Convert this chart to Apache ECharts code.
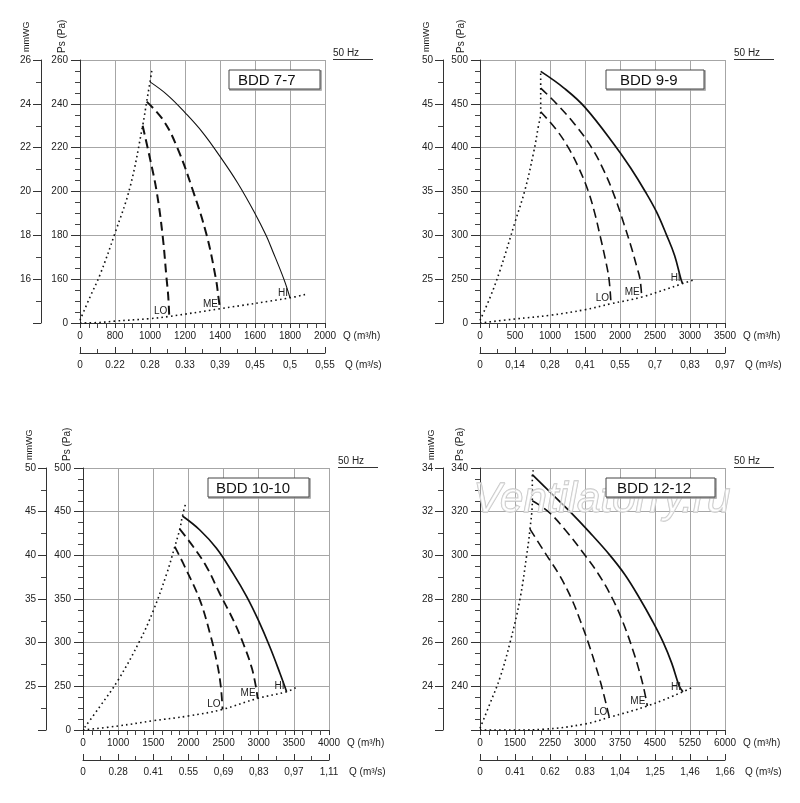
<!DOCTYPE html>
<html lang="ru">
<head>
<meta charset="UTF-8">
<title>BDD 50 Hz</title>
<script src="https://cdn.jsdelivr.net/npm/echarts@6.0.0/dist/echarts.min.js"></script>
<style>
  html, body { margin: 0; padding: 0; background: #fff; }
  #chart { width: 800px; height: 803px; }
</style>
</head>
<body>
<div id="chart"></div>
<script>
// ---- BDD 7-7 ----  (Q in m3/h, Ps in Pa)
const bdd77Q = [0, 800, 1000, 1200, 1400, 1600, 1800, 2000];
const bdd77Qs = ['0', '0.22', '0.28', '0.33', '0,39', '0,45', '0,5', '0,55'];
const bdd77Ps = [0, 160, 180, 200, 220, 240, 260];
const bdd77PsLabels = ['0', '160', '180', '200', '220', '240', '260'];
const bdd77Mm = ['', '16', '18', '20', '22', '24', '26'];
const bdd77Hi = [[1000, 250], [1100, 244], [1200, 236], [1300, 227], [1400, 216], [1500, 204], [1600, 190], [1663, 180], [1700, 173], [1765, 160], [1800, 92]];
const bdd77Me = [[981, 241], [1076, 232.5], [1156, 220], [1247, 200], [1324, 180], [1377, 160], [1390, 100], [1400, 52]];
const bdd77Lo = [[958, 230], [1000, 215], [1038, 200], [1072, 180], [1095, 160], [1104, 100], [1110, 24]];
const bdd77Sys = [[0, 10], [229, 95], [457, 162], [800, 181], [886, 202], [958, 230], [981, 241], [1000, 250], [1010, 255]];
const bdd77Low = [[0, 0], [457, 2], [800, 7], [1000, 16], [1110, 24], [1400, 52], [1800, 92], [1886, 104]];

// ---- BDD 9-9 ----
const bdd99Q = [0, 500, 1000, 1500, 2000, 2500, 3000, 3500];
const bdd99Qs = ['0', '0,14', '0,28', '0,41', '0,55', '0,7', '0,83', '0,97'];
const bdd99Ps = [0, 250, 300, 350, 400, 450, 500];
const bdd99PsLabels = ['0', '250', '300', '350', '400', '450', '500'];
const bdd99Mm = ['', '25', '30', '35', '40', '45', '50'];
const bdd99Hi = [[867, 487], [1200, 468], [1500, 446], [1950, 400], [2150, 377], [2360, 350], [2520, 327], [2667, 300], [2780, 277], [2871, 250], [2895, 225]];
const bdd99Me = [[867, 468], [1095, 450], [1350, 427], [1595, 400], [1780, 372], [1929, 343], [2060, 312], [2167, 285], [2240, 264], [2286, 250], [2310, 148]];
const bdd99Lo = [[867, 441], [1095, 420], [1262, 400], [1410, 377], [1548, 350], [1640, 325], [1714, 300], [1790, 273], [1843, 250], [1871, 110]];
const bdd99Sys = [[0, 15], [143, 145], [286, 260], [500, 315], [643, 352], [762, 393], [833, 424], [867, 441], [867, 468], [867, 487]];
const bdd99Low = [[0, 0], [500, 23], [1000, 44], [1500, 76], [1871, 110], [2310, 148], [2895, 225], [3038, 244]];

// ---- BDD 10-10 ----
const bdd1010Q = [0, 1000, 1500, 2000, 2500, 3000, 3500, 4000];
const bdd1010Qs = ['0', '0.28', '0.41', '0.55', '0,69', '0,83', '0,97', '1,11'];
const bdd1010Ps = [0, 250, 300, 350, 400, 450, 500];
const bdd1010PsLabels = ['0', '250', '300', '350', '400', '450', '500'];
const bdd1010Mm = ['', '25', '30', '35', '40', '45', '50'];
const bdd1010Hi = [[1915, 445], [2162, 429], [2399, 408], [2637, 379], [2827, 353], [2993, 326], [3159, 295], [3302, 265], [3397, 219]];
const bdd1010Me = [[1877, 430], [2067, 410], [2257, 387], [2447, 356], [2637, 326], [2780, 299], [2898, 272], [2960, 248], [2984, 181]];
const bdd1010Lo = [[1806, 410], [1972, 383], [2162, 349], [2305, 311], [2409, 276], [2461, 248], [2485, 118]];
const bdd1010Sys = [[48, 15], [475, 133], [997, 257], [1307, 302], [1497, 336], [1687, 378], [1806, 410], [1877, 430], [1915, 445], [1962, 460]];
const bdd1010Low = [[0, 0], [997, 23], [1497, 53], [1996, 80], [2485, 118], [2984, 181], [3397, 219], [3525, 242]];

// ---- BDD 12-12 ----
const bdd1212Q = [0, 1500, 2250, 3000, 3750, 4500, 5250, 6000];
const bdd1212Qs = ['0', '0.41', '0.62', '0.83', '1,04', '1,25', '1,46', '1,66'];
const bdd1212Ps = [0, 240, 260, 280, 300, 320, 340];
const bdd1212PsLabels = ['', '240', '260', '280', '300', '320', '340'];
const bdd1212Mm = ['', '24', '26', '28', '30', '32', '34'];
const bdd1212Hi = [[1871, 337], [2250, 329], [2679, 320], [3100, 310.5], [3536, 300], [3860, 291], [4179, 280], [4430, 270.5], [4679, 260], [4860, 250.5], [5021, 240], [5100, 210]];
const bdd1212Me = [[1871, 325], [2214, 320], [2600, 311], [3000, 300], [3300, 291], [3593, 280], [3820, 269], [4036, 256], [4150, 248], [4250, 240], [4336, 132]];
const bdd1212Lo = [[1821, 312], [2179, 300], [2450, 291], [2714, 280], [2900, 270], [3071, 260], [3220, 250], [3357, 240], [3521, 70]];
const bdd1212Sys = [[0, 9], [429, 146], [857, 244], [1286, 260], [1607, 280], [1750, 300], [1821, 312], [1871, 325], [1871, 337], [1893, 339]];
const bdd1212Low = [[0, 0], [1500, 0], [2107, 4], [3000, 33], [3521, 70], [4336, 132], [5100, 210], [5321, 238]];

const FONT = 'Liberation Sans, Arial, sans-serif';
const NARROW = 'Liberation Sans Narrow, Liberation Sans, Arial, sans-serif';
const INK = '#222';

// page layout of the four panels
const panels = [
  { title: 'BDD 7-7', q: bdd77Q, qs: bdd77Qs, ps: bdd77Ps, psLabels: bdd77PsLabels, mm: bdd77Mm,
    hi: bdd77Hi, me: bdd77Me, lo: bdd77Lo, sys: bdd77Sys, low: bdd77Low,
    grid: { left: 80, top: 60, width: 245, height: 263 }, mmOffset: 39,
    box: [229, 70, 91, 19], textX: 238, hzX: 333, nameX: [27, 62], solidW: 1.1, dashW: 2 },
  { title: 'BDD 9-9', q: bdd99Q, qs: bdd99Qs, ps: bdd99Ps, psLabels: bdd99PsLabels, mm: bdd99Mm,
    hi: bdd99Hi, me: bdd99Me, lo: bdd99Lo, sys: bdd99Sys, low: bdd99Low,
    grid: { left: 480, top: 60, width: 245, height: 263 }, mmOffset: 37,
    box: [606, 70, 98, 19], textX: 620, hzX: 734, nameX: [427, 461], solidW: 1.7, dashW: 1.6 },
  { title: 'BDD 10-10', q: bdd1010Q, qs: bdd1010Qs, ps: bdd1010Ps, psLabels: bdd1010PsLabels, mm: bdd1010Mm,
    hi: bdd1010Hi, me: bdd1010Me, lo: bdd1010Lo, sys: bdd1010Sys, low: bdd1010Low,
    grid: { left: 83, top: 468, width: 246, height: 262 }, mmOffset: 37,
    box: [208, 478, 101, 19], textX: 216, hzX: 338, nameX: [30, 67], solidW: 1.7, dashW: 1.8 },
  { title: 'BDD 12-12', q: bdd1212Q, qs: bdd1212Qs, ps: bdd1212Ps, psLabels: bdd1212PsLabels, mm: bdd1212Mm,
    hi: bdd1212Hi, me: bdd1212Me, lo: bdd1212Lo, sys: bdd1212Sys, low: bdd1212Low,
    grid: { left: 480, top: 468, width: 245, height: 262 }, mmOffset: 37,
    box: [606, 478, 109, 19], textX: 617, hzX: 734, nameX: [432, 460], solidW: 1.7, dashW: 1.6 }
];

// broken axes: every tick step is drawn the same width
function toIdx(v, ticks) {
  for (let k = 1; k < ticks.length; k++) {
    if (v <= ticks[k] || k === ticks.length - 1) {
      return (k - 1) + (v - ticks[k - 1]) / (ticks[k] - ticks[k - 1]);
    }
  }
}

const grids = [], xAxes = [], yAxes = [], series = [], graphics = [];

panels.forEach(function (p, i) {
  const solid = { color: '#111', width: p.solidW, type: 'solid' };
  const dashed = { color: '#111', width: p.dashW, type: [9, 5] };
  const dotted = { color: '#111', width: 1.6, type: [1.6, 3.2] };

  grids.push(Object.assign({ outerBoundsMode: 'none', containLabel: false }, p.grid));

  xAxes.push({
    type: 'value', gridIndex: i, min: 0, max: 7, interval: 1, position: 'bottom',
    axisLine: { show: true, onZero: false, lineStyle: { color: '#333', width: 1 } },
    axisTick: { show: true, length: 5, lineStyle: { color: '#333' } },
    minorTick: { show: true, splitNumber: 4, length: 5, lineStyle: { color: '#444' } },
    axisLabel: { formatter: function (v) { return p.q[Math.round(v)]; }, fontSize: 10, fontFamily: NARROW, color: INK, margin: 8 },
    splitLine: { show: true, lineStyle: { color: '#a6a6a6', width: 1 } },
    name: 'Q (m³/h)', nameLocation: 'end', nameGap: 18,
    nameTextStyle: { fontSize: 10, fontFamily: FONT, color: INK, verticalAlign: 'top', padding: [8, 0, 0, 0] }
  });
  xAxes.push({
    type: 'value', gridIndex: i, min: 0, max: 7, interval: 1, position: 'bottom', offset: 30,
    axisLine: { show: true, onZero: false, lineStyle: { color: '#333', width: 1 } },
    axisTick: { show: true, inside: true, length: 6, lineStyle: { color: '#333' } },
    minorTick: { show: true, splitNumber: 2, length: 4, lineStyle: { color: '#444' } },
    axisLabel: { formatter: function (v) { return p.qs[Math.round(v)]; }, fontSize: 10, fontFamily: FONT, color: INK, margin: 7 },
    splitLine: { show: false },
    name: 'Q (m³/s)', nameLocation: 'end', nameGap: 20,
    nameTextStyle: { fontSize: 10, fontFamily: FONT, color: INK, verticalAlign: 'top', padding: [7, 0, 0, 0] }
  });

  yAxes.push({
    type: 'value', gridIndex: i, min: 0, max: 6, interval: 1, position: 'left',
    axisLine: { show: true, onZero: false, lineStyle: { color: '#333', width: 1 } },
    axisTick: { show: true, length: 9, lineStyle: { color: '#333' } },
    minorTick: { show: true, splitNumber: 4, length: 5, lineStyle: { color: '#444' } },
    axisLabel: { formatter: function (v) { return p.psLabels[Math.round(v)]; }, fontSize: 10, fontFamily: FONT, color: INK, margin: 12 },
    splitLine: { show: true, lineStyle: { color: '#a6a6a6', width: 1 } }
  });
  yAxes.push({
    type: 'value', gridIndex: i, min: 0, max: 6, interval: 1, position: 'left', offset: p.mmOffset,
    axisLine: { show: true, onZero: false, lineStyle: { color: '#333', width: 1 } },
    axisTick: { show: true, length: 8, lineStyle: { color: '#333' } },
    minorTick: { show: true, splitNumber: 2, length: 5, lineStyle: { color: '#444' } },
    axisLabel: { formatter: function (v) { return p.mm[Math.round(v)]; }, fontSize: 10, fontFamily: FONT, color: INK, margin: 10 },
    splitLine: { show: false }
  });

  function curve(pts, style, text) {
    const data = pts.map(function (pt) { return [toIdx(pt[0], p.q), toIdx(pt[1], p.ps)]; });
    if (text) {
      const last = data.length - 1;
      data[last] = {
        value: data[last],
        label: { show: true, formatter: text, position: 'left', distance: 2, offset: [0, -5],
                 fontSize: 10, fontFamily: FONT, color: INK }
      };
    }
    return {
      type: 'line', xAxisIndex: 2 * i, yAxisIndex: 2 * i, data: data,
      smooth: 0.4, symbol: 'circle', symbolSize: 0, showSymbol: true,
      lineStyle: style, itemStyle: { color: '#111' }, silent: true, z: 5
    };
  }
  series.push(curve(p.sys, dotted));
  series.push(curve(p.low, dotted));
  series.push(curve(p.lo, dashed, 'LO'));
  series.push(curve(p.me, dashed, 'ME'));
  series.push(curve(p.hi, solid, 'HI'));

  const top = p.grid.top;
  // title box
  graphics.push({ type: 'rect', shape: { x: p.box[0] + 1, y: p.box[1] + 1, width: p.box[2], height: p.box[3] },
                  style: { fill: 'none', stroke: '#999', lineWidth: 1.5 }, z: 10 });
  graphics.push({ type: 'rect', shape: { x: p.box[0], y: p.box[1], width: p.box[2], height: p.box[3] },
                  style: { fill: '#fff', stroke: '#444', lineWidth: 1 }, z: 11 });
  graphics.push({ type: 'text', x: p.textX, y: p.box[1] + p.box[3] / 2 + 1, z: 12,
                  style: { text: p.title, fontSize: 15, fontFamily: FONT, fill: '#111', verticalAlign: 'middle' } });
  // 50 Hz
  graphics.push({ type: 'text', x: p.hzX, y: top - 2, z: 12,
                  style: { text: '50 Hz', fontSize: 10, fontFamily: FONT, fill: INK, verticalAlign: 'bottom' } });
  graphics.push({ type: 'line', shape: { x1: p.hzX, y1: top - 0.5, x2: p.hzX + 40, y2: top - 0.5 }, z: 12,
                  style: { stroke: '#333', lineWidth: 1 } });
  // rotated axis names
  graphics.push({ type: 'text', x: p.nameX[0], y: top - 8, rotation: Math.PI / 2, z: 12,
                  style: { text: 'mmWG', fontSize: 9, fontFamily: FONT, fill: INK, align: 'left', verticalAlign: 'middle' } });
  graphics.push({ type: 'text', x: p.nameX[1], y: top - 7, rotation: Math.PI / 2, z: 12,
                  style: { text: 'Ps (Pa)', fontSize: 10, fontFamily: FONT, fill: INK, align: 'left', verticalAlign: 'middle' } });
});

// watermark on the last panel
graphics.push({ type: 'text', x: 602, y: 500, z: 8,
                style: { text: 'Ventilatorry.ru', fontSize: 42, fontStyle: 'italic', fontFamily: FONT,
                         fill: 'rgba(255,255,255,0.55)', stroke: '#c4c4c4', lineWidth: 1.3,
                         align: 'center', verticalAlign: 'middle' } });

const chart = echarts.init(document.getElementById('chart'), null, { renderer: 'canvas' });
chart.setOption({
  animation: false,
  backgroundColor: '#fff',
  grid: grids,
  xAxis: xAxes,
  yAxis: yAxes,
  series: series,
  graphic: graphics
});
</script>
</body>
</html>
